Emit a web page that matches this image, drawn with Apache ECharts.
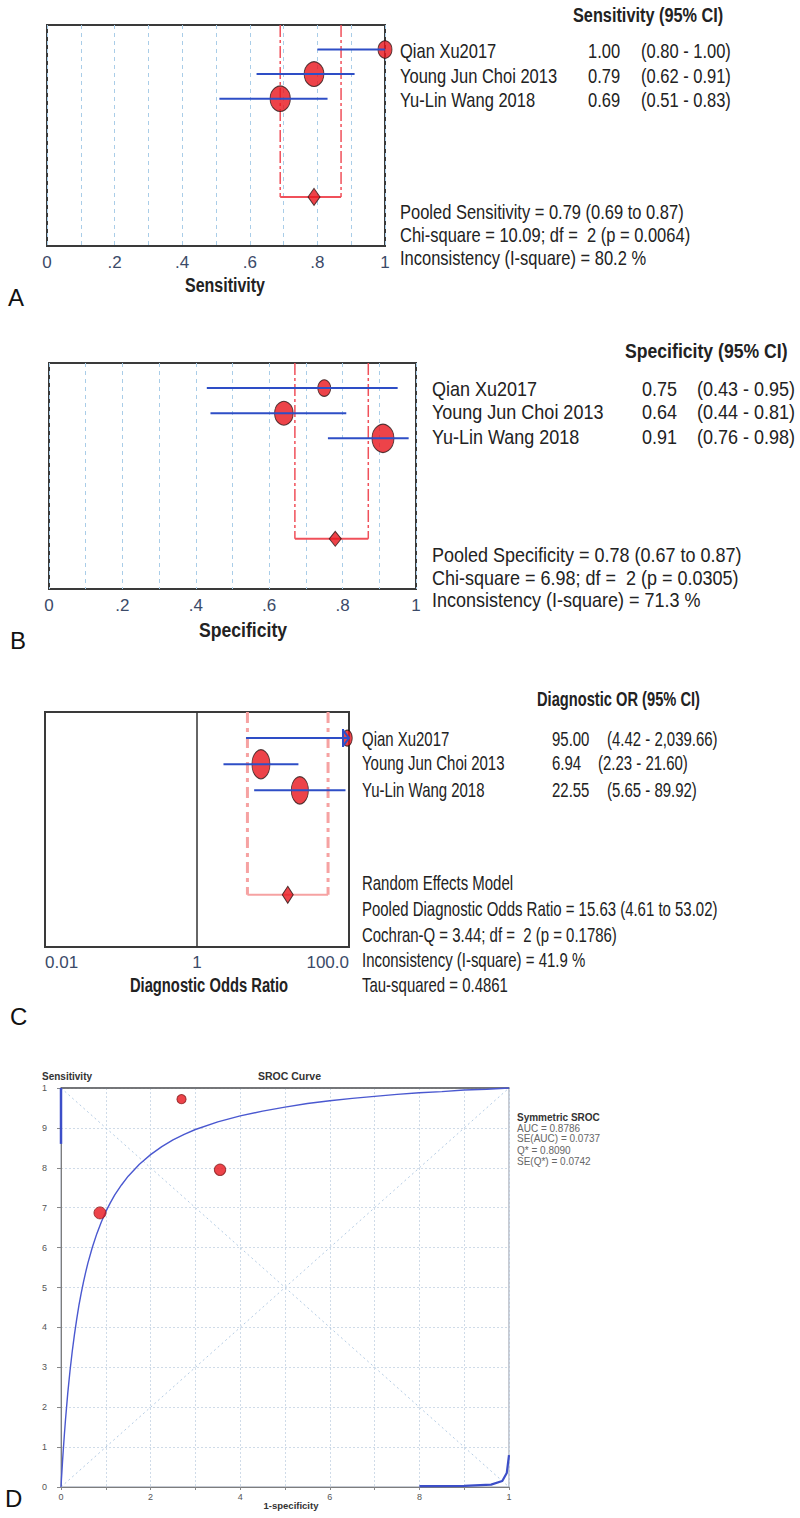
<!DOCTYPE html>
<html><head><meta charset="utf-8">
<script src="https://cdn.jsdelivr.net/npm/echarts@6.0.0/dist/echarts.min.js"></script>
<style>html,body{margin:0;padding:0;background:#fff}#c{width:800px;height:1518px}</style>
</head><body><div id="c"></div>
<script>
// ---------------- DATA ----------------
const studies = ['Qian Xu2017', 'Young Jun Choi 2013', 'Yu-Lin Wang 2018'];
const rows = [1, 2, 3];
const pooledRow = 7;

const sensEst = [1.00, 0.79, 0.69];
const sensLo  = [0.80, 0.62, 0.51];
const sensHi  = [1.00, 0.91, 0.83];
const sensN   = [17, 34, 36];
const sensPooled = [0.79, 0.69, 0.87];
const sensStats = ['Pooled Sensitivity = 0.79 (0.69 to 0.87)', 'Chi-square = 10.09; df =  2 (p = 0.0064)', 'Inconsistency (I-square) = 80.2 %'];

const specEst = [0.75, 0.64, 0.91];
const specLo  = [0.43, 0.44, 0.76];
const specHi  = [0.95, 0.81, 0.98];
const specN   = [12, 25, 35];
const specPooled = [0.78, 0.67, 0.87];
const specStats = ['Pooled Specificity = 0.78 (0.67 to 0.87)', 'Chi-square = 6.98; df =  2 (p = 0.0305)', 'Inconsistency (I-square) = 71.3 %'];

const dorEst = [95.00, 6.94, 22.55];
const dorLo  = [4.42, 2.23, 5.65];
const dorHi  = [2039.66, 21.60, 89.92];
const dorWeight = [12, 40, 36];
const dorPooled = [15.63, 4.61, 53.02];
const dorStats = ['Random Effects Model', 'Pooled Diagnostic Odds Ratio = 15.63 (4.61 to 53.02)', 'Cochran-Q = 3.44; df =  2 (p = 0.1786)', 'Inconsistency (I-square) = 41.9 %', 'Tau-squared = 0.4861'];

const propTicks = ['0', '.2', '.4', '.6', '.8', '1'];
const dorTicks = ['0.01', '1', '100.0'];

// SROC panel
const srocFpr = [0, 0.001, 0.002, 0.0035, 0.005, 0.0075, 0.01, 0.015, 0.02, 0.025, 0.03, 0.035, 0.04, 0.045, 0.05, 0.055, 0.06, 0.07, 0.08, 0.09, 0.1, 0.11, 0.12, 0.135, 0.15, 0.175, 0.2, 0.225, 0.25, 0.275, 0.3, 0.35, 0.4, 0.45, 0.5, 0.55, 0.6, 0.65, 0.7, 0.75, 0.8, 0.85, 0.9, 0.95, 1.0];
const srocTpr = [0, 0.020, 0.038, 0.066, 0.091, 0.131, 0.168, 0.234, 0.29, 0.339, 0.382, 0.42, 0.455, 0.485, 0.513, 0.538, 0.561, 0.601, 0.635, 0.664, 0.69, 0.712, 0.732, 0.757, 0.779, 0.809, 0.833, 0.853, 0.87, 0.884, 0.896, 0.915, 0.93, 0.942, 0.952, 0.961, 0.968, 0.974, 0.979, 0.984, 0.988, 0.991, 0.995, 0.997, 1.0];
const srocTailFpr = [0.8, 0.9, 0.96, 0.985, 0.995, 1.0];
const srocTailTpr = [0.002, 0.003, 0.006, 0.015, 0.035, 0.08];
const srocEdgeFpr = [0, 0];
const srocEdgeTpr = [0.86, 1.0];
const studyFpr = [0.269, 0.355, 0.087];
const studyTpr = [0.972, 0.795, 0.687];
const studyN = [29, 59, 71];
const srocStats = ['AUC = 0.8786', 'SE(AUC) = 0.0737', 'Q* = 0.8090', 'SE(Q*) = 0.0742'];
const srocYTicks = ['0', '1', '2', '3', '4', '5', '6', '7', '8', '9', '1'];
const srocXTicks = ['0', '2', '4', '6', '8', '1'];

// ---------------- FONTS ----------------
const probe = document.createElement('canvas').getContext('2d');
function fontOK(name) {
  const s = 'Young Jun Choi 2013 AbcWq';
  probe.font = '40px monospace'; const a = probe.measureText(s).width;
  probe.font = '40px "' + name + '", monospace'; const b = probe.measureText(s).width;
  return Math.abs(a - b) > 1;
}
const NARROW = fontOK('Liberation Sans Narrow');
const NFAM = NARROW ? '"Liberation Sans Narrow", "Liberation Sans", sans-serif' : '"Liberation Sans", Arial, sans-serif';
const NFACTOR = NARROW ? 0.82 : 1;
const RFAM = '"Liberation Sans", Arial, sans-serif';
const LBL = NARROW ? 20 : 17;

function T(x, y, text, o) {
  o = o || {};
  const size = o.size || 20.5;
  const narrow = o.narrow !== false;
  const w = o.w || 1;
  return {
    type: 'text', x: x, y: y,
    scaleX: narrow ? w / NFACTOR : w,
    silent: true,
    style: {
      text: text,
      fill: o.color || '#222',
      font: (o.bold ? 'bold ' : '') + size + 'px ' + (narrow ? NFAM : RFAM),
      align: o.align || 'left',
      verticalAlign: 'middle'
    }
  };
}
const f2 = v => v.toFixed(2);
const fc = v => v.toLocaleString('en-US', {minimumFractionDigits: 2, maximumFractionDigits: 2});

// ---------------- RENDER HELPERS ----------------
function ciRender(xmax, color) {
  return function (params, api) {
    const lo = api.value(0), hi = api.value(1), row = api.value(2);
    const p1 = api.coord([lo, row]);
    const p2 = api.coord([Math.min(hi, xmax), row]);
    const ch = [{type: 'line', shape: {x1: p1[0], y1: p1[1], x2: p2[0], y2: p2[1]}, style: {stroke: color, lineWidth: 2}}];
    if (hi > xmax) {
      const x = p2[0] - 1, y = p2[1];
      ch.push({type: 'line', shape: {x1: x - 5, y1: y - 9, x2: x - 5, y2: y + 9}, style: {stroke: color, lineWidth: 2}});
      ch.push({type: 'polyline', shape: {points: [[x - 5, y - 8], [x + 1, y], [x - 5, y + 8]]}, style: {stroke: color, lineWidth: 2, fill: 'none'}});
    }
    return {type: 'group', children: ch};
  };
}
function bracketRender(color, width, dash) {
  return function (params, api) {
    const lo = api.value(0), hi = api.value(1), row = api.value(2);
    const t0 = api.coord([lo, 0]), a = api.coord([lo, row]), b = api.coord([hi, row]), t1 = api.coord([hi, 0]);
    return {type: 'group', children: [
      {type: 'line', shape: {x1: t0[0], y1: t0[1], x2: a[0], y2: a[1]}, style: {stroke: color, lineWidth: width, lineDash: dash}},
      {type: 'line', shape: {x1: t1[0], y1: t1[1], x2: b[0], y2: b[1]}, style: {stroke: color, lineWidth: width, lineDash: dash}},
      {type: 'line', shape: {x1: a[0], y1: a[1], x2: b[0], y2: b[1]}, style: {stroke: color, lineWidth: 2}}
    ]};
  };
}

const RED = '#e8141c';
const BLUE = '#2e4ec6';
const markerStyle = {color: RED, borderColor: '#2a1414', borderWidth: 1};

function forestSeries(gi, est, lo, hi, sizeFn, pooled, xmax, brColor, brWidth, brDash, diamondSize) {
  return [
    {type: 'custom', xAxisIndex: gi, yAxisIndex: gi, z: 1, silent: true,
      data: [[pooled[1], pooled[2], pooledRow]], renderItem: bracketRender(brColor, brWidth, brDash)},
    {type: 'scatter', xAxisIndex: gi, yAxisIndex: gi, z: 2, silent: true,
      data: rows.map((r, i) => ({value: [est[i], r], symbolSize: sizeFn(i)})),
      itemStyle: markerStyle},
    {type: 'custom', xAxisIndex: gi, yAxisIndex: gi, z: 3, silent: true,
      data: rows.map((r, i) => [lo[i], hi[i], r]), renderItem: ciRender(xmax, BLUE)},
    {type: 'scatter', xAxisIndex: gi, yAxisIndex: gi, z: 4, silent: true, symbol: 'diamond',
      data: [[pooled[0], pooledRow]], symbolSize: diamondSize, itemStyle: markerStyle}
  ];
}

const gridLineStyle = {color: '#a9cde8', type: [4, 4], width: 1};
function propAxis(gi) {
  return {type: 'value', gridIndex: gi, min: 0, max: 1, interval: 0.2,
    axisLine: {show: false}, axisTick: {show: false},
    axisLabel: {margin: 8, color: '#3b4a68', fontFamily: NFAM, fontSize: LBL, formatter: v => propTicks[Math.round(v * 5)]},
    splitLine: {show: true, lineStyle: gridLineStyle},
    minorTick: {show: false, splitNumber: 2},
    minorSplitLine: {show: true, lineStyle: gridLineStyle}};
}
const forestY = gi => ({type: 'value', gridIndex: gi, min: 0, max: 9, inverse: true, show: false});
const dGrid = {color: '#cfdbe8', type: [2, 2], width: 1};

// ---------------- TEXT ----------------
const g = [];
// Panel A
const yA = [51, 75.5, 100];
g.push(T(573, 15, 'Sensitivity (95% CI)', {bold: true, w: 0.795}));
rows.forEach((r, i) => {
  g.push(T(400, yA[i], studies[i], {w: 0.805}));
  g.push(T(588, yA[i], f2(sensEst[i]), {w: 0.805}));
  g.push(T(641, yA[i], '(' + f2(sensLo[i]) + ' - ' + f2(sensHi[i]) + ')', {w: 0.805}));
});
[211.5, 235, 258].forEach((y, i) => g.push(T(400, y, sensStats[i], {w: 0.805})));
g.push(T(225, 285, 'Sensitivity', {bold: true, w: 0.78, align: 'center'}));
g.push(T(8, 297, 'A', {size: 24, narrow: false, color: '#111'}));
// Panel B
const yB = [389.5, 412.5, 437.5];
g.push(T(625, 351, 'Specificity (95% CI)', {bold: true, w: 0.86}));
rows.forEach((r, i) => {
  g.push(T(432, yB[i], studies[i], {w: 0.878}));
  g.push(T(642, yB[i], f2(specEst[i]), {w: 0.878}));
  g.push(T(697, yB[i], '(' + f2(specLo[i]) + ' - ' + f2(specHi[i]) + ')', {w: 0.878}));
});
[555, 578, 600].forEach((y, i) => g.push(T(432, y, specStats[i], {w: 0.878})));
g.push(T(243, 630, 'Specificity', {bold: true, w: 0.86, align: 'center'}));
g.push(T(10, 640, 'B', {size: 24, narrow: false, color: '#111'}));
// Panel C
const yC = [739, 763.5, 790];
const ciXC = [607, 598, 607];
g.push(T(537, 699, 'Diagnostic OR (95% CI)', {bold: true, w: 0.716}));
rows.forEach((r, i) => {
  g.push(T(362, yC[i], studies[i], {w: 0.73}));
  g.push(T(552, yC[i], f2(dorEst[i]), {w: 0.73}));
  g.push(T(ciXC[i], yC[i], '(' + f2(dorLo[i]) + ' - ' + fc(dorHi[i]) + ')', {w: 0.73}));
});
[883, 909, 935, 960, 985].forEach((y, i) => g.push(T(362, y, dorStats[i], {w: 0.73})));
g.push(T(209, 985, 'Diagnostic Odds Ratio', {bold: true, w: 0.72, align: 'center'}));
g.push(T(10, 1016, 'C', {size: 24, narrow: false, color: '#111'}));
// Panel D
g.push(T(42, 1076, 'Sensitivity', {size: 10, bold: true, narrow: false, color: '#333'}));
g.push(T(258, 1076, 'SROC Curve', {size: 10.5, bold: true, narrow: false, color: '#333'}));
g.push(T(517, 1117, 'Symmetric SROC', {size: 10, bold: true, narrow: false, color: '#333'}));
[1128, 1138.5, 1150, 1161.5].forEach((y, i) => g.push(T(517, y, srocStats[i], {size: 10, narrow: false, color: '#666'})));
g.push(T(291, 1505, '1-specificity', {size: 9.5, bold: true, narrow: false, color: '#333', align: 'center'}));
g.push(T(5, 1498, 'D', {size: 24, narrow: false, color: '#111'}));

// ---------------- CHART ----------------
const chart = echarts.init(document.getElementById('c'), null, {renderer: 'svg'});
const frame = {show: true, borderColor: '#3a3a3a', borderWidth: 2, backgroundColor: 'transparent'};
chart.setOption({
  animation: false,
  backgroundColor: '#fff',
  grid: [
    Object.assign({left: 47, top: 25, width: 338, height: 221}, frame),
    Object.assign({left: 49, top: 363, width: 367, height: 226}, frame),
    Object.assign({left: 45, top: 712, width: 304, height: 235}, frame),
    {left: 61, top: 1088, width: 448, height: 399, show: true, borderColor: '#8c96a8', borderWidth: 1}
  ],
  xAxis: [
    propAxis(0),
    propAxis(1),
    {type: 'log', gridIndex: 2, min: 0.01, max: 100, logBase: 10,
      axisLine: {show: false}, axisTick: {show: false}, splitLine: {show: false},
      axisLabel: {margin: 7, color: '#3b4a68', fontFamily: NFAM, fontSize: LBL, alignMinLabel: 'left', alignMaxLabel: 'right',
        formatter: v => { const e = Math.round(Math.log10(v)); return e === -2 ? dorTicks[0] : e === 0 ? dorTicks[1] : e === 2 ? dorTicks[2] : ''; }}},
    {type: 'value', gridIndex: 3, min: 0, max: 1, interval: 0.1,
      axisLine: {show: true, lineStyle: {color: '#7d7d7d', width: 1}},
      axisTick: {show: true, length: 3, lineStyle: {color: '#888'}},
      axisLabel: {margin: 5, color: '#555', fontFamily: RFAM, fontSize: 9,
        formatter: v => { const i = Math.round(v * 10); return i % 2 === 0 ? srocXTicks[i / 2] : ''; }},
      splitLine: {show: true, lineStyle: dGrid}},
    {type: 'value', gridIndex: 3, min: 0, max: 1, position: 'top',
      axisLine: {show: true, lineStyle: {color: '#5a5a5a', width: 1.5}},
      axisTick: {show: false}, axisLabel: {show: false}, splitLine: {show: false}}
  ],
  yAxis: [
    forestY(0), forestY(1), forestY(2),
    {type: 'value', gridIndex: 3, min: 0, max: 1, interval: 0.1,
      axisLine: {show: true, lineStyle: {color: '#7d7d7d', width: 1}},
      axisTick: {show: true, length: 4, lineStyle: {color: '#888'}},
      axisLabel: {margin: 14, color: '#555', fontFamily: RFAM, fontSize: 9, formatter: v => srocYTicks[Math.round(v * 10)]},
      splitLine: {show: true, lineStyle: dGrid}}
  ],
  graphic: {elements: g},
  series: [].concat(
    forestSeries(0, sensEst, sensLo, sensHi, i => { const w = 20 * Math.sqrt(sensN[i] / 35); return [w, w * 1.25]; },
      sensPooled, 1, '#f0505a', 1.5, [12, 3, 3, 3], [12, 17]),
    forestSeries(1, specEst, specLo, specHi, i => { const w = 22 * Math.sqrt(specN[i] / 35); return [w, w * 1.28]; },
      specPooled, 1, '#f0505a', 1.5, [12, 3, 3, 3], [12, 15]),
    forestSeries(2, dorEst, dorLo, dorHi, i => { const w = 18 * Math.sqrt(dorWeight[i] / 40); return [w, w * 1.6]; },
      dorPooled, 100, '#f6a2a2', 3, [11, 5, 4, 5], [11, 17]),
    [
      {type: 'line', xAxisIndex: 2, yAxisIndex: 2, silent: true, symbol: 'none', z: 1,
        data: [[1, 0], [1, 9]], lineStyle: {color: '#333', width: 1.5}},
      // SROC panel
      {type: 'line', xAxisIndex: 3, yAxisIndex: 3, silent: true, symbol: 'none', z: 1,
        data: [[0, 0], [1, 1]], lineStyle: {color: '#b4cbe3', width: 1, type: [2, 3]}},
      {type: 'line', xAxisIndex: 3, yAxisIndex: 3, silent: true, symbol: 'none', z: 1,
        data: [[0, 1], [1, 0]], lineStyle: {color: '#b4cbe3', width: 1, type: [2, 3]}},
      {type: 'line', xAxisIndex: 3, yAxisIndex: 3, silent: true, symbol: 'none', z: 2, clip: false,
        data: srocFpr.map((x, i) => [x, srocTpr[i]]), lineStyle: {color: '#4a58d0', width: 1.4}},
      {type: 'line', xAxisIndex: 3, yAxisIndex: 3, silent: true, symbol: 'none', z: 2, clip: false,
        data: srocTailFpr.map((x, i) => [x, srocTailTpr[i]]), lineStyle: {color: '#3c4ec8', width: 2.2}},
      {type: 'line', xAxisIndex: 3, yAxisIndex: 3, silent: true, symbol: 'none', z: 2, clip: false,
        data: srocEdgeFpr.map((x, i) => [x, srocEdgeTpr[i]]), lineStyle: {color: '#3c4ec8', width: 2.5}},
      {type: 'scatter', xAxisIndex: 3, yAxisIndex: 3, silent: true, z: 3,
        data: studyFpr.map((x, i) => ({value: [x, studyTpr[i]], symbolSize: 12 * Math.pow(studyN[i] / 71, 0.3)})),
        itemStyle: {color: RED, borderColor: '#8a2020', borderWidth: 1}}
    ]
  )
});
</script></body></html>
